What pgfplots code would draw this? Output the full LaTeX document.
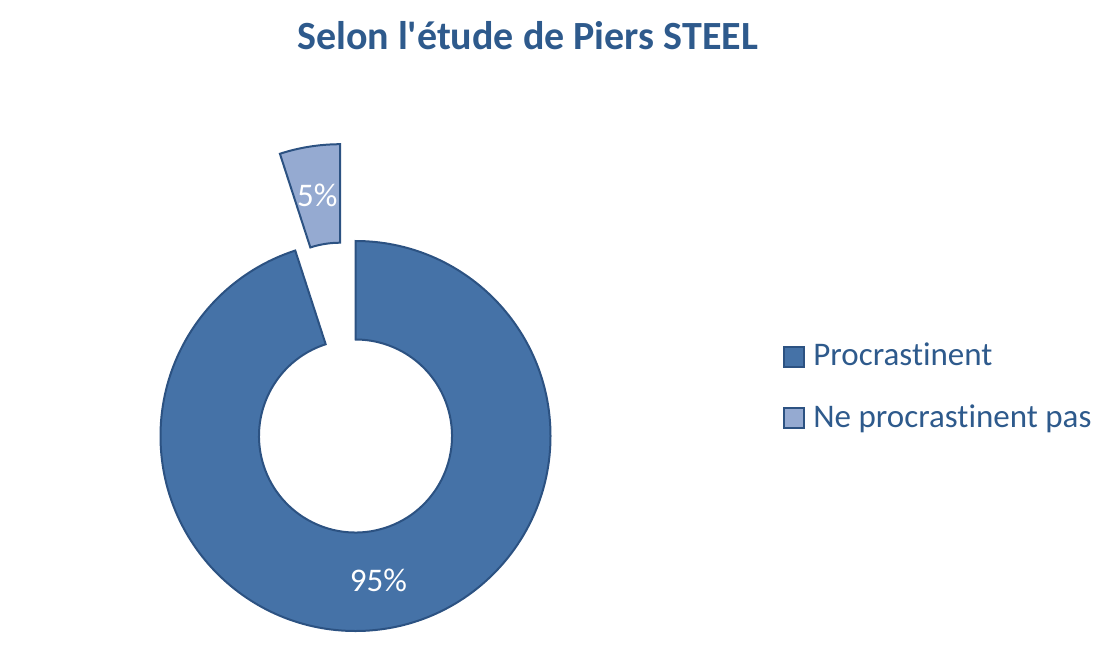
\documentclass[border=0pt]{standalone}
\usepackage{pgfplots}
\pgfplotsset{compat=1.18}
\usepackage{pgfplotstable}
\usepackage{fontspec}
\setmainfont{Carlito}[Ligatures={TeXOff,CommonOff}]
\definecolor{mainc}{RGB}{69,114,167}
\definecolor{lightc}{RGB}{149,170,209}
\definecolor{edgec}{RGB}{44,82,130}
\definecolor{txtc}{RGB}{46,90,140}
\pgfplotstableread{
label value
Procrastinent 95
{Ne procrastinent pas} 5
}\shares
\begin{document}
\begin{tikzpicture}
\pgfplotstablegetelem{0}{value}\of\shares \let\va\pgfplotsretval
\pgfplotstablegetelem{1}{value}\of\shares \let\vb\pgfplotsretval
\pgfmathsetmacro\tot{\va+\vb}
\pgfmathsetmacro\aEnd{90-360*(\va/\tot)}
\pgfmathsetmacro\bEnd{\aEnd-360*(\vb/\tot)}
\pgfmathsetmacro\aMid{(90+\aEnd)/2}
\pgfmathsetmacro\bMid{(\aEnd+\bEnd)/2}
\begin{axis}[scale only axis, width=551pt, height=326pt,
  xmin=0, xmax=1102, ymin=0, ymax=652, hide axis, clip=false]
\path (axis cs:0,0) (axis cs:1102,652);
\coordinate (C) at (axis cs:355.5,216);
% main slice
\filldraw[fill=mainc, draw=edgec, line width=1pt, line join=miter]
  ([shift={(90:97.5pt)}]C) arc[start angle=90, end angle=\aEnd, radius=97.5pt]
  -- ([shift={(\aEnd:48.25pt)}]C) arc[start angle=\aEnd, end angle=90, radius=48.25pt]
  -- cycle;
% exploded small slice
\coordinate (C2) at ([shift={(\bMid:49pt)}]C);
\filldraw[fill=lightc, draw=edgec, line width=1pt, line join=miter]
  ([shift={(\aEnd:97.5pt)}]C2) arc[start angle=\aEnd, end angle=\bEnd, radius=97.5pt]
  -- ([shift={(\bEnd:48.25pt)}]C2) arc[start angle=\bEnd, end angle=\aEnd, radius=48.25pt]
  -- cycle;
% data labels
\node[text=white, font=\fontsize{16.5}{20}\selectfont, inner sep=0pt] at ([shift={(\aMid:72.9pt)}]C) {\va\%};
\node[text=white, font=\fontsize{16.5}{20}\selectfont, inner sep=0pt] at ([shift={(\bMid:72.9pt)}]C2) {\vb\%};
% title
\node[text=txtc, font=\fontsize{20}{24}\selectfont\bfseries, anchor=base] at (axis cs:527.5,602.7) {Selon l'étude de Piers STEEL};
% legend
\node[draw=edgec, fill=mainc, line width=0.6pt, minimum size=10pt, inner sep=0pt] at (axis cs:794,295) {};
\node[draw=edgec, fill=lightc, line width=0.6pt, minimum size=10pt, inner sep=0pt] at (axis cs:794,234) {};
\node[text=txtc, font=\fontsize{16.5}{20}\selectfont, anchor=base west, inner sep=0pt] at (axis cs:813,287) {Procrastinent};
\node[text=txtc, font=\fontsize{16.5}{20}\selectfont, anchor=base west, inner sep=0pt] at (axis cs:813,225) {Ne procrastinent pas};
\end{axis}
\end{tikzpicture}
\end{document}
